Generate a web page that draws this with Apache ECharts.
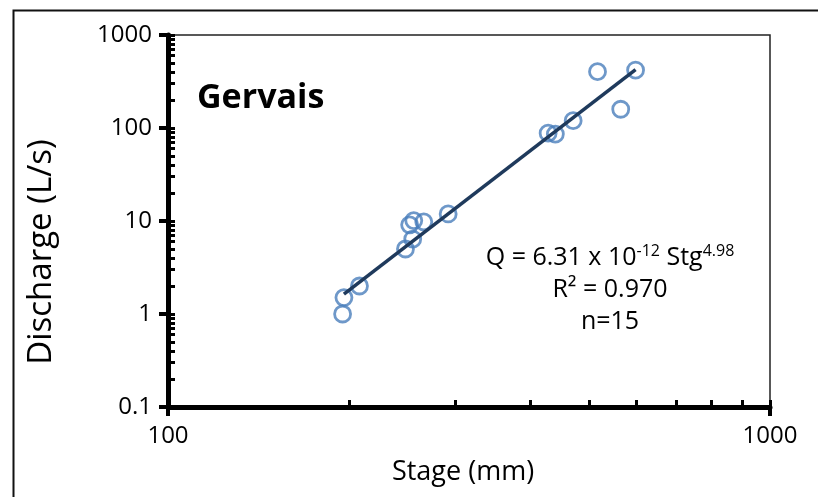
<!DOCTYPE html>
<html>
<head>
<meta charset="utf-8">
<script src="https://cdn.jsdelivr.net/npm/echarts@6/dist/echarts.min.js"></script>
<style>
  html, body { margin: 0; padding: 0; background: #fff; }
  #chart { width: 818px; height: 497px; }
</style>
</head>
<body>
<div id="chart"></div>
<script>
// stage (mm) and discharge (L/s)
var stage = [195, 196, 208, 248, 255, 252, 256, 266, 292, 428, 440, 471, 517, 565, 598];
var discharge = [1.0, 1.5, 2.0, 5.0, 6.4, 9.1, 10.1, 9.8, 11.9, 88, 86, 120, 403, 159, 420];
// fitted power line end points
var fitStage = [196, 598];
var fitDischarge = [1.64, 425];
// ticks
var xMinorTicks = [100, 200, 300, 400, 500, 600, 700, 800, 900, 1000];
var yMinorTicks = [0.1, 0.2, 0.3, 0.4, 0.5, 0.6, 0.7, 0.8, 0.9,
  1, 2, 3, 4, 5, 6, 7, 8, 9,
  10, 20, 30, 40, 50, 60, 70, 80, 90,
  100, 200, 300, 400, 500, 600, 700, 800, 900, 1000];

var font = "'Open Sans', 'Liberation Sans', sans-serif";
var points = stage.map(function (s, i) { return [s, discharge[i]]; });
var fit = fitStage.map(function (s, i) { return [s, fitDischarge[i]]; });

function plainNum(v) {
  return String(v);
}

var chart = echarts.init(document.getElementById("chart"), null, { renderer: "canvas" });
var option = {
  animation: false,
  grid: {
    left: 168, right: 48, top: 35, bottom: 90,
    show: true, borderColor: "#222", borderWidth: 1.5
  },
  xAxis: [
    {
      type: "log", logBase: 10, min: 100, max: 1000,
      axisLine: { lineStyle: { color: "#000", width: 5 } },
      axisTick: { inside: false, length: 9, lineStyle: { color: "#000", width: 4 } },
      axisLabel: { fontFamily: font, fontSize: 24, color: "#000", margin: 17, formatter: plainNum },
      splitLine: { show: false }
    },
    {
      type: "log", logBase: 10, min: 100, max: 1000, position: "bottom",
      axisLine: { show: false },
      axisTick: { inside: true, length: 7, customValues: xMinorTicks, lineStyle: { color: "#000", width: 3 } },
      axisLabel: { show: false },
      splitLine: { show: false }
    }
  ],
  yAxis: [
    {
      type: "log", logBase: 10, min: 0.1, max: 1000,
      axisLine: { lineStyle: { color: "#000", width: 5 } },
      axisTick: { inside: false, length: 9, lineStyle: { color: "#000", width: 4 } },
      axisLabel: { fontFamily: font, fontSize: 24, color: "#000", margin: 16, formatter: plainNum },
      splitLine: { show: false }
    },
    {
      type: "log", logBase: 10, min: 0.1, max: 1000, position: "left",
      axisLine: { show: false },
      axisTick: { inside: true, length: 7, customValues: yMinorTicks, lineStyle: { color: "#000", width: 3 } },
      axisLabel: { show: false },
      splitLine: { show: false }
    }
  ],
  graphic: [
    {
      type: "rect", left: 11, top: 8, silent: true,
      shape: { width: 900, height: 600 },
      style: { fill: "none", stroke: "#111", lineWidth: 2 }
    },
    {
      type: "text", x: 42, y: 252, rotation: Math.PI / 2, silent: true,
      style: { text: "Discharge (L/s)", fontFamily: font, fontSize: 33, fill: "#000", align: "center", verticalAlign: "middle" }
    },
    {
      type: "text", x: 463, y: 472, silent: true,
      style: { text: "Stage (mm)", fontFamily: font, fontSize: 27, fill: "#000", align: "center", verticalAlign: "middle" }
    },
    {
      type: "text", x: 197, y: 98, silent: true,
      style: { text: "Gervais", font: "bold 34px " + font, fill: "#000", verticalAlign: "middle" }
    },
    {
      type: "text", x: 610, y: 258, silent: true,
      style: {
        text: "{n|Q = 6.31 x 10}{s|-12}{n| Stg}{s|4.98}",
        align: "center", verticalAlign: "middle",
        rich: {
          n: { fontFamily: font, fontSize: 25, lineHeight: 30, fill: "#000" },
          s: { fontFamily: font, fontSize: 16, lineHeight: 30, verticalAlign: "top", fill: "#000" }
        }
      }
    },
    {
      type: "text", x: 610, y: 290, silent: true,
      style: { text: "R² = 0.970", fontFamily: font, fontSize: 25, fill: "#000", align: "center", verticalAlign: "middle" }
    },
    {
      type: "text", x: 610, y: 322, silent: true,
      style: { text: "n=15", fontFamily: font, fontSize: 25, fill: "#000", align: "center", verticalAlign: "middle" }
    }
  ],
  series: [
    {
      name: "Gervais",
      type: "scatter",
      xAxisIndex: 0, yAxisIndex: 0,
      symbol: "circle", symbolSize: 16,
      itemStyle: { color: "rgba(0,0,0,0)", borderColor: "#4a7ebb", borderWidth: 2.8 },
      data: points,
      z: 2
    },
    {
      name: "fit",
      type: "line",
      xAxisIndex: 0, yAxisIndex: 0,
      showSymbol: false, symbol: "none",
      lineStyle: { color: "#1f3a5c", width: 3.5 },
      data: fit,
      z: 3
    }
  ]
};
chart.setOption(option);
</script>
</body>
</html>
